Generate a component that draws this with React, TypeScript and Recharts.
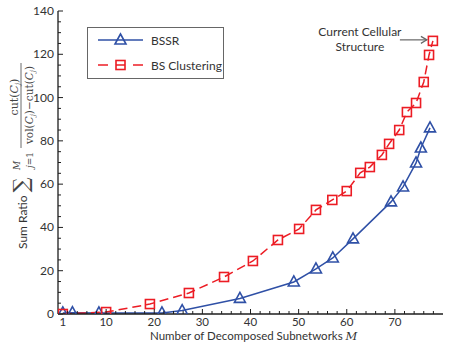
import React from "react";
import { LineChart, Line, XAxis, YAxis, ReferenceDot } from "recharts";

// BSSR (blue, solid, triangles)
const bssrM = [1, 3, 8.5, 21.6, 25.8, 37.8, 49, 53.6, 57.1, 61.3, 69.2, 71.7, 74.4, 75.4, 77.3];
const bssrRatio = [0.5, 0.6, 0.5, 0.5, 1.6, 7.2, 14.8, 20.8, 25.9, 34.7, 51.8, 58.7, 69.8, 76.7, 86.0];

// BS Clustering (red, dashed, squares)
const clusterM = [1, 10, 19.1, 27.2, 34.5, 40.5, 45.7, 50.1, 53.6, 57, 60, 62.8, 64.8, 67.3, 68.8, 70.9, 72.5, 74.4, 76, 77.1, 77.9];
const clusterRatio = [0, 0.9, 4.6, 9.7, 17.1, 24.5, 34.2, 39.3, 48.1, 52.7, 56.8, 65.2, 67.9, 73.5, 78.6, 85.0, 93.3, 97.5, 107.2, 119.7, 126.2];

const seriesNames = ["BSSR", "BS Clustering"];
const xLabels = [1, 10, 20, 30, 40, 50, 60, 70, 80];
const xTicks = [1, 2, 4, 6, 8, 10, 12, 14, 16, 18, 20, 22, 24, 26, 28, 30, 32, 34, 36, 38, 40, 42, 44, 46, 48, 50, 52, 54, 56, 58, 60, 62, 64, 66, 68, 70, 72, 74, 76, 78];
const yLabels = [0, 20, 40, 60, 80, 100, 120, 140];
const yTicks = [0, 5, 10, 15, 20, 25, 30, 35, 40, 45, 50, 55, 60, 65, 70, 75, 80, 85, 90, 95, 100, 105, 110, 115, 120, 125, 130, 135, 140];

const BLUE = "#2f50a6";
const RED = "#ec1c24";
const AXIS = "#1e1e1e";
const TEXT = "#333";
const FONT = "Lato, 'Noto Sans', sans-serif";
const SERIF = "'DejaVu Serif', 'Liberation Serif', serif";

const bssrData = bssrM.map((m, i) => ({ m, v: bssrRatio[i] }));
const clusterData = clusterM.map((m, i) => ({ m, v: clusterRatio[i] }));
const lastCluster = clusterData[clusterData.length - 1];

const Triangle = ({ cx, cy, color }: { cx: number; cy: number; color: string }) => (
  <polygon
    points={`${cx},${cy - 6} ${cx - 5.5},${cy + 4} ${cx + 5.5},${cy + 4}`}
    fill="none"
    stroke={color}
    strokeWidth={1.6}
  />
);

const Square = ({ cx, cy, color }: { cx: number; cy: number; color: string }) => (
  <rect x={cx - 4.5} y={cy - 4.5} width={9} height={9} fill="none" stroke={color} strokeWidth={1.6} />
);

const BottomTick = (props: any) => {
  const { x, y, payload } = props;
  const v = payload.value;
  const major = v % 10 === 0;
  return (
    <g>
      {v !== 1 && <line x1={x} y1={y} x2={x} y2={y - (major ? 5 : 3)} stroke={AXIS} />}
      {xLabels.includes(v) && (
        <text x={x} y={y + 12} textAnchor="middle" fontFamily={FONT} fontSize={11.5} fill={TEXT}>
          {v}
        </text>
      )}
    </g>
  );
};

const TopTick = (props: any) => {
  const { x, y, payload } = props;
  const v = payload.value;
  if (v === 1) return <g />;
  return <line x1={x} y1={y} x2={x} y2={y + (v % 10 === 0 ? 5 : 3)} stroke={AXIS} />;
};

const LeftTick = (props: any) => {
  const { x, y, payload } = props;
  const v = payload.value;
  const major = v % 20 === 0;
  return (
    <g>
      <line x1={x} y1={y} x2={x + (major ? 5 : 3)} y2={y} stroke={AXIS} />
      {yLabels.includes(v) && (
        <text x={x - 4} y={y + 4} textAnchor="end" fontFamily={FONT} fontSize={12} fill={TEXT}>
          {v}
        </text>
      )}
    </g>
  );
};

const RightTick = (props: any) => {
  const { x, y, payload } = props;
  const v = payload.value;
  return <line x1={x} y1={y} x2={x - (v % 20 === 0 ? 5 : 3)} y2={y} stroke={AXIS} />;
};

const Annotation = ({ cx, cy }: { cx: number; cy: number }) => (
  <g>
    <text x={cx - 73} y={cy - 5} textAnchor="middle" fontFamily={FONT} fontSize={12} fill={TEXT}>
      Current Cellular
    </text>
    <text x={cx - 73} y={cy + 10} textAnchor="middle" fontFamily={FONT} fontSize={12} fill={TEXT}>
      Structure
    </text>
    <line x1={cx - 33} y1={cy - 1} x2={cx - 6} y2={cy - 1} stroke="#666" strokeWidth={1.2} />
    <polyline
      points={`${cx - 12},${cy - 4.5} ${cx - 6},${cy - 1} ${cx - 12},${cy + 2.5}`}
      fill="none"
      stroke="#666"
      strokeWidth={1.2}
    />
  </g>
);

export default function App() {
  return (
    <div style={{ position: "absolute", left: 0, top: 0, width: 451, height: 342, background: "#fff" }}>
      <LineChart width={451} height={342} margin={{ top: 11, right: 8, bottom: 0, left: 0 }}>
        <XAxis
          xAxisId="x"
          dataKey="m"
          type="number"
          domain={[0, 80]}
          allowDataOverflow
          ticks={xTicks}
          interval={0}
          tickSize={0}
          tickMargin={0}
          tick={<BottomTick />}
          height={28}
          axisLine={{ stroke: AXIS, strokeWidth: 1.3 }}
        />
        <XAxis
          xAxisId="top"
          orientation="top"
          type="number"
          domain={[0, 80]}
          allowDataOverflow
          ticks={xTicks}
          interval={0}
          tickSize={0}
          tickMargin={0}
          tick={<TopTick />}
          height={0}
          axisLine={{ stroke: AXIS, strokeWidth: 1.3 }}
        />
        <YAxis
          yAxisId="y"
          type="number"
          domain={[0, 140]}
          allowDataOverflow
          ticks={yTicks}
          interval={0}
          tickSize={0}
          tickMargin={0}
          tick={<LeftTick />}
          width={58}
          axisLine={{ stroke: AXIS, strokeWidth: 1.3 }}
        />
        <YAxis
          yAxisId="right"
          orientation="right"
          type="number"
          domain={[0, 140]}
          allowDataOverflow
          ticks={yTicks}
          interval={0}
          tickSize={0}
          tickMargin={0}
          tick={<RightTick />}
          width={0}
          axisLine={{ stroke: AXIS, strokeWidth: 1.3 }}
        />
        <Line
          xAxisId="x"
          yAxisId="y"
          data={bssrData}
          dataKey="v"
          name={seriesNames[0]}
          stroke={BLUE}
          strokeWidth={1.5}
          isAnimationActive={false}
          dot={(p: any) => <Triangle key={`t-${p.index}`} cx={p.cx} cy={p.cy} color={BLUE} />}
        />
        <Line
          xAxisId="x"
          yAxisId="y"
          data={clusterData}
          dataKey="v"
          name={seriesNames[1]}
          stroke={RED}
          strokeWidth={1.5}
          strokeDasharray="9 5"
          isAnimationActive={false}
          dot={(p: any) => <Square key={`s-${p.index}`} cx={p.cx} cy={p.cy} color={RED} />}
        />
        <ReferenceDot
          xAxisId="x"
          yAxisId="y"
          x={lastCluster.m}
          y={lastCluster.v}
          r={0}
          shape={(p: any) => <Annotation cx={p.cx} cy={p.cy} />}
        />
      </LineChart>

      <svg
        width={451}
        height={342}
        style={{ position: "absolute", left: 0, top: 0, pointerEvents: "none" }}
      >
        {/* legend */}
        <rect x={87.5} y={27.5} width={136} height={51} fill="#fff" stroke="#666" strokeWidth={1} />
        <line x1={98} y1={40} x2={143} y2={40} stroke={BLUE} strokeWidth={1.5} />
        <Triangle cx={120.5} cy={40} color={BLUE} />
        <text x={151} y={44.5} fontFamily={FONT} fontSize={12} fill={TEXT}>
          {seriesNames[0]}
        </text>
        <line x1={98} y1={65} x2={108} y2={65} stroke={RED} strokeWidth={1.5} />
        <line x1={133} y1={65} x2={143} y2={65} stroke={RED} strokeWidth={1.5} />
        <line x1={116} y1={65} x2={125} y2={65} stroke={RED} strokeWidth={1.5} />
        <Square cx={120.5} cy={65} color={RED} />
        <text x={151} y={69.5} fontFamily={FONT} fontSize={12} fill={TEXT}>
          {seriesNames[1]}
        </text>

        {/* x axis title */}
        <text x={150} y={339.5} fontFamily={FONT} fontSize={11.5} fill={TEXT}>
          Number of Decomposed Subnetworks{" "}
          <tspan fontFamily={SERIF} fontStyle="italic">
            M
          </tspan>
        </text>

        {/* y axis title */}
        <g transform="translate(22,150) rotate(-90)" fill="#444">
          <text x={-99} y={5} fontFamily={FONT} fontSize={12} fill={TEXT}>
            Sum Ratio
          </text>
          <text x={-35} y={6} textAnchor="middle" fontFamily={SERIF} fontSize={21}>
            ∑
          </text>
          <text x={-20} y={-2} fontFamily={SERIF} fontSize={9} fontStyle="italic">
            M
          </text>
          <text x={-18} y={11} fontFamily={SERIF} fontSize={9}>
            <tspan fontStyle="italic">j</tspan>=1
          </text>
          <line x1={2} y1={-1} x2={87} y2={-1} stroke="#444" strokeWidth={0.8} />
          <text x={53} y={-4} textAnchor="middle" fontFamily={SERIF} fontSize={11}>
            cut(<tspan fontStyle="italic">C</tspan>
            <tspan fontSize={7} dy={2} fontStyle="italic">j</tspan>
            <tspan dy={-2}>)</tspan>
          </text>
          <text x={45} y={11} textAnchor="middle" fontFamily={SERIF} fontSize={10.5}>
            vol(<tspan fontStyle="italic">C</tspan>
            <tspan fontSize={7} dy={2} fontStyle="italic">j</tspan>
            <tspan dy={-2}>)−cut(</tspan>
            <tspan fontStyle="italic">C</tspan>
            <tspan fontSize={7} dy={2} fontStyle="italic">j</tspan>
            <tspan dy={-2}>)</tspan>
          </text>
        </g>
      </svg>
    </div>
  );
}
